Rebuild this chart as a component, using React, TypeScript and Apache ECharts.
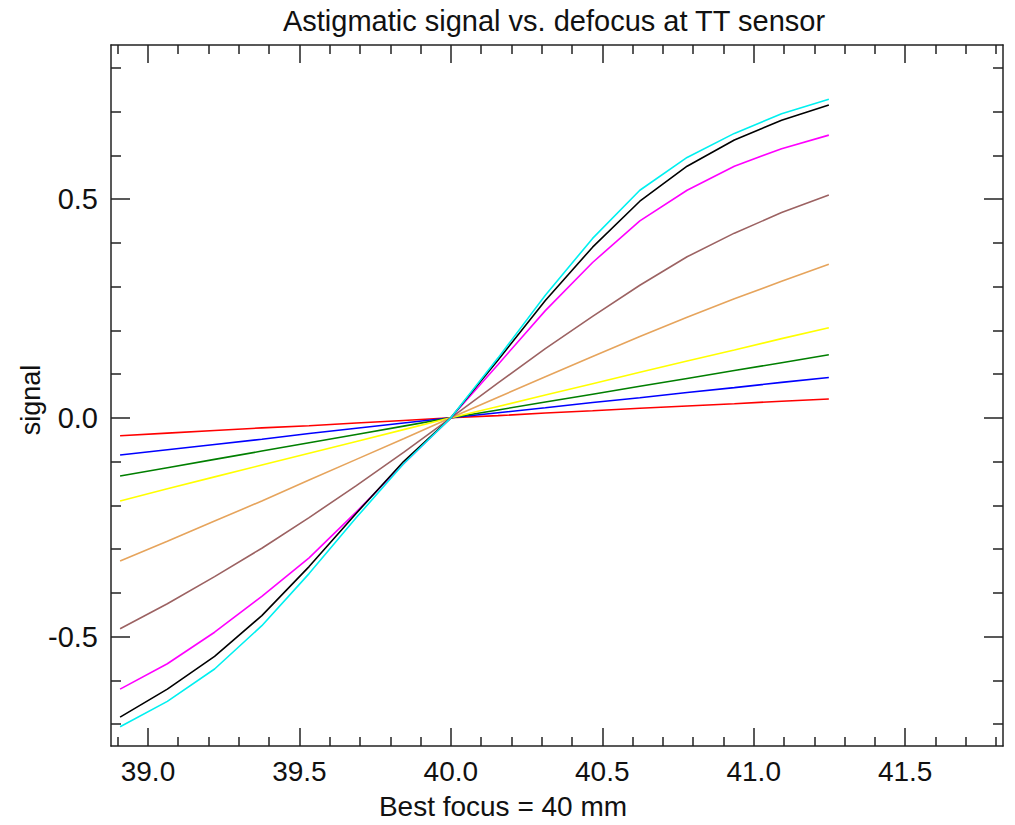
import React, { useEffect, useRef } from "react";
import * as echarts from "echarts";

// Defocus positions (mm)
const defocus = [38.908, 39.064, 39.22, 39.376, 39.532, 39.688, 39.844, 40.0, 40.156, 40.312, 40.468, 40.624, 40.78, 40.936, 41.092, 41.248];

const seriesNames = ["a1", "a2", "a3", "a4", "a5", "a6", "a7", "a8", "a9"];
const seriesColors = ["#ff0000", "#0000ff", "#007f00", "#ffff00", "#e6a45c", "#9c6262", "#ff00ff", "#000000", "#00f0f0"];

const redSignal = [-0.041, -0.035, -0.029, -0.023, -0.018, -0.012, -0.006, 0, 0.005, 0.011, 0.016, 0.022, 0.027, 0.032, 0.038, 0.043];
const blueSignal = [-0.085, -0.073, -0.061, -0.049, -0.036, -0.024, -0.012, 0, 0.0115, 0.023, 0.035, 0.046, 0.058, 0.069, 0.081, 0.092];
const greenSignal = [-0.133, -0.114, -0.095, -0.076, -0.057, -0.038, -0.019, 0, 0.018, 0.036, 0.054, 0.072, 0.09, 0.108, 0.126, 0.144];
const yellowSignal = [-0.19, -0.162, -0.135, -0.108, -0.081, -0.054, -0.027, 0, 0.026, 0.052, 0.078, 0.104, 0.13, 0.155, 0.181, 0.206];
const orangeSignal = [-0.327, -0.282, -0.236, -0.19, -0.142, -0.095, -0.048, 0, 0.047, 0.094, 0.14, 0.186, 0.23, 0.272, 0.312, 0.351];
const brownSignal = [-0.482, -0.425, -0.363, -0.298, -0.228, -0.155, -0.079, 0, 0.08, 0.158, 0.232, 0.303, 0.368, 0.422, 0.469, 0.509];
const magentaSignal = [-0.62, -0.562, -0.49, -0.408, -0.32, -0.215, -0.105, 0, 0.122, 0.245, 0.355, 0.45, 0.52, 0.575, 0.615, 0.646];
const blackSignal = [-0.684, -0.62, -0.545, -0.452, -0.34, -0.218, -0.1, 0, 0.132, 0.268, 0.39, 0.495, 0.575, 0.635, 0.68, 0.715];
const cyanSignal = [-0.706, -0.648, -0.574, -0.475, -0.356, -0.228, -0.105, 0, 0.137, 0.28, 0.41, 0.52, 0.595, 0.65, 0.695, 0.728];

const allSignals = [redSignal, blueSignal, greenSignal, yellowSignal, orangeSignal, brownSignal, magentaSignal, blackSignal, cyanSignal];

const xMajorTicks = [39.0, 39.5, 40.0, 40.5, 41.0, 41.5];
const xMinorTicks = [38.9, 39.1, 39.2, 39.3, 39.4, 39.6, 39.7, 39.8, 39.9, 40.1, 40.2, 40.3, 40.4, 40.6, 40.7, 40.8, 40.9, 41.1, 41.2, 41.3, 41.4, 41.6, 41.7, 41.8];
const yMajorTicks = [-0.5, 0.0, 0.5];
const yMinorTicks = [-0.7, -0.6, -0.4, -0.3, -0.2, -0.1, 0.1, 0.2, 0.3, 0.4, 0.6, 0.7, 0.8];

const xMin = 38.878;
const xMax = 41.823;
const yMin = -0.75;
const yMax = 0.852;

const titleText = "Astigmatic signal vs. defocus at TT sensor";
const xTitle = "Best focus = 40 mm";
const yTitle = "signal";

const AX = "#222222";
const FONT = "Liberation Sans";

function makeAxis(kind: "x" | "y", position: string, ticks: number[], len: number, labels: boolean, line: boolean) {
  return {
    type: "value",
    position,
    min: kind === "x" ? xMin : yMin,
    max: kind === "x" ? xMax : yMax,
    axisLine: { show: line, onZero: false, lineStyle: { color: AX, width: 1.5 } },
    axisTick: { show: true, inside: true, length: len, customValues: ticks, lineStyle: { color: AX, width: 1.5 } },
    axisLabel: labels
      ? {
          show: true,
          customValues: ticks,
          formatter: (v: number) => v.toFixed(1),
          fontFamily: FONT,
          fontSize: kind === "x" ? 28 : 29,
          color: "#111",
          margin: kind === "x" ? 11 : 13,
        }
      : { show: false },
    splitLine: { show: false },
    minorTick: { show: false },
  };
}

export default function App() {
  const ref = useRef<HTMLDivElement>(null);
  useEffect(() => {
    if (!ref.current) return;
    const chart = echarts.init(ref.current, null, { renderer: "svg" });
    const series = allSignals.map((sig, i) => ({
      name: seriesNames[i],
      type: "line",
      xAxisIndex: 0,
      yAxisIndex: 0,
      showSymbol: false,
      symbol: "none",
      lineStyle: { color: seriesColors[i], width: 1.6 },
      itemStyle: { color: seriesColors[i] },
      data: defocus.map((x, j) => [x, sig[j]]),
      z: 3,
    }));
    chart.setOption({
      animation: false,
      backgroundColor: "#ffffff",
      grid: { left: 111, top: 45, right: 12, bottom: 79, containLabel: false },
      xAxis: [
        makeAxis("x", "bottom", xMajorTicks, 18, true, true),
        makeAxis("x", "bottom", xMinorTicks, 9, false, false),
        makeAxis("x", "top", xMajorTicks, 18, false, true),
        makeAxis("x", "top", xMinorTicks, 9, false, false),
      ],
      yAxis: [
        makeAxis("y", "left", yMajorTicks, 19, true, true),
        makeAxis("y", "left", yMinorTicks, 10, false, false),
        makeAxis("y", "right", yMajorTicks, 19, false, true),
        makeAxis("y", "right", yMinorTicks, 10, false, false),
      ],
      series,
      graphic: [
        {
          type: "text",
          x: 554,
          y: 21,
          style: { text: titleText, fontFamily: FONT, fontSize: 29, fill: "#111", textAlign: "center", textVerticalAlign: "middle" },
        },
        {
          type: "text",
          x: 503,
          y: 806,
          style: { text: xTitle, fontFamily: FONT, fontSize: 28, fill: "#111", textAlign: "center", textVerticalAlign: "middle" },
        },
        {
          type: "text",
          x: 31,
          y: 400,
          rotation: Math.PI / 2,
          style: { text: yTitle, fontFamily: FONT, fontSize: 27, fill: "#111", textAlign: "center", textVerticalAlign: "middle" },
        },
      ],
    });
    return () => chart.dispose();
  }, []);
  return <div ref={ref} style={{ position: "fixed", left: 0, top: 0, width: 1015, height: 825, background: "#fff" }} />;
}
